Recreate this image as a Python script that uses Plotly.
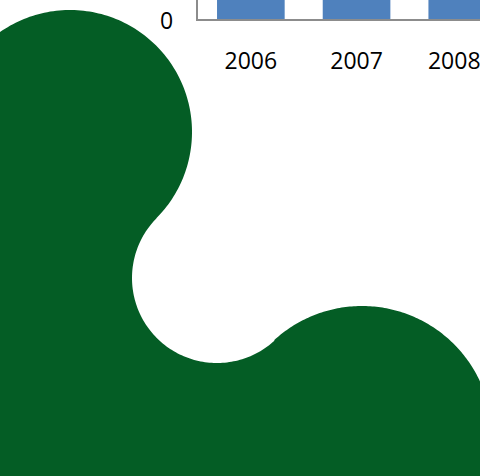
import numpy as np
import plotly.graph_objects as go

# ---- chart data (visible part of a cropped column chart) ----
years = ["2006", "2007", "2008"]
values = [30, 32, 34]          # bars run off the top of the crop
y_ticks = [0]
y_tick_labels = ["0"]

W, H = 480, 476
BAR_COLOR = "#4F81BD"
AXIS_COLOR = "#8C8C8C"
GREEN = "#045D25"
FONT = dict(family="Open Sans", size=23, color="black")

# ---- decorative green logo shape (geometry, pixel space) ----
C1, R1 = (70.0, 132.0), 122.0    # upper convex lobe
C2, R2 = (217.0, 278.0), 85.0    # concave notch
C3, R3 = (362.0, 436.0), 130.0   # lower-right convex lobe


def ang(a, b):
    return np.arctan2(b[1] - a[1], b[0] - a[0])


def arc(c, r, a0, a1, n=120):
    t = np.linspace(a0, a1, n)
    return list(zip(c[0] + r * np.cos(t), c[1] + r * np.sin(t)))


a_start = np.arctan2(-np.sqrt(R1**2 - C1[0]**2), -C1[0])
a_t1 = ang(C1, C2)
pts = arc(C1, R1, a_start, a_t1)
b0 = ang(C2, C1)
b1 = ang(C2, C3) - 2 * np.pi
pts += arc(C2, R2, b0, b1)
c0 = ang(C3, C2)
dx = W - C3[0]
c1 = np.arctan2(-np.sqrt(R3**2 - dx**2), dx)
pts += arc(C3, R3, c0, c1)
pts += [(W, H), (0, H)]

path = "M " + " L ".join(f"{x / W:.5f},{1 - y / H:.5f}" for x, y in pts) + " Z"

plot_left = 198
cat_w = 105.7
x_range = [-0.5, -0.5 + (W - plot_left) / cat_w]
# the last (edge) label is nudged left so it stays inside the frame
edge_nudge = 8 / cat_w

fig = go.Figure()
fig.add_trace(go.Bar(x=years, y=values, marker=dict(color=BAR_COLOR, line=dict(width=0)),
                     showlegend=False, hoverinfo="skip"))
fig.add_trace(go.Scatter(x=years, y=values, xaxis="x2", mode="markers",
                         marker=dict(opacity=0), showlegend=False, hoverinfo="skip"))

common_x = dict(type="category", domain=[plot_left / W, 1],
                categoryorder="array", categoryarray=years,
                showgrid=False, zeroline=False, ticks="", fixedrange=True)

# y tick labels drawn as text anchored to the y axis values
y_labels = [dict(text=t, xref="paper", x=plot_left / W, xanchor="right", xshift=-23,
                 yref="y", y=v, yanchor="middle", yshift=-1,
                 showarrow=False, font=FONT)
            for v, t in zip(y_ticks, y_tick_labels)]

fig.update_layout(
    width=W, height=H, autosize=False,
    margin=dict(l=0, r=0, t=0, b=0, pad=0),
    paper_bgcolor="white", plot_bgcolor="white",
    bargap=0.36,
    font=FONT,
    xaxis=dict(**common_x, range=x_range, tickvals=years[:-1],
               showline=True, linecolor=AXIS_COLOR, linewidth=2,
               ticklabelstandoff=20),
    xaxis2=dict(**common_x, overlaying="x", anchor="y", side="bottom",
                range=[x_range[0] + edge_nudge, x_range[1] + edge_nudge],
                tickvals=years[-1:], showline=False, ticklabelstandoff=26),
    yaxis=dict(domain=[1 - 19 / H, 1], range=[0, 1],
               tickvals=y_ticks, showticklabels=False,
               showline=True, linecolor=AXIS_COLOR, linewidth=2,
               showgrid=False, zeroline=False, ticks="", fixedrange=True),
    annotations=y_labels,
    shapes=[dict(type="path", path=path, xref="paper", yref="paper",
                 fillcolor=GREEN, line=dict(width=0), layer="above")],
)

fig.write_html(
    "out.html", config={"displayModeBar": False},
    post_script=(
        "document.documentElement.style.margin='0';"
        "document.documentElement.style.overflow='hidden';"
        "document.body.style.margin='0';document.body.style.overflow='hidden';"
    ),
)
